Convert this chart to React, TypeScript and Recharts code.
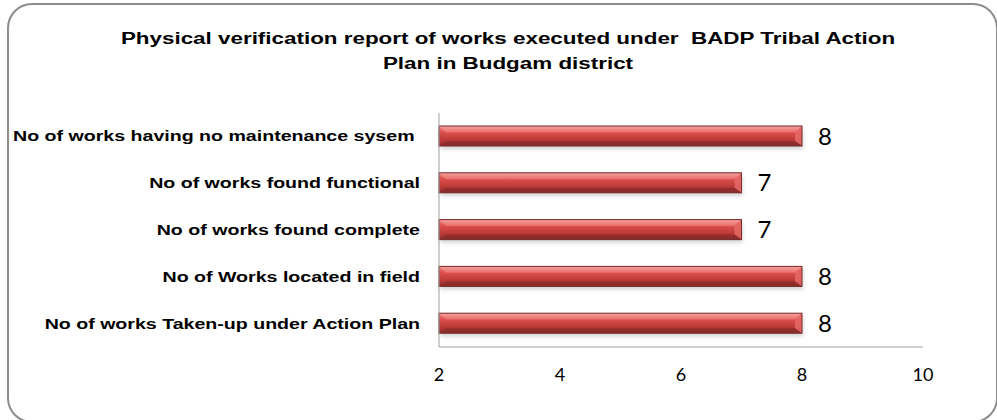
import { BarChart, Bar, XAxis, YAxis, LabelList } from "recharts";

const categories = [
  "No of works having no maintenance sysem ",
  "No of works found functional",
  "No of works found complete",
  "No of Works located in field",
  "No of works Taken-up under Action Plan",
];
const values = [8, 7, 7, 8, 8];
const xTicks = [2, 4, 6, 8, 10];

const TITLE_1 = "Physical verification report of works executed under  BADP Tribal Action";
const TITLE_2 = "Plan in Budgam district";

// the source picture is stretched sideways, so text is widened to match
const STRETCH = 1.4;

const data = categories.map((name, i) => ({ name, value: values[i] }));

function CategoryTick({ x, y, payload }: any) {
  return (
    <text
      transform={`translate(${x},${y}) scale(${STRETCH},1)`}
      textAnchor="end"
      dy={5}
      fontSize={14}
      fontWeight="bold"
      fontFamily="'Liberation Sans', Arial, sans-serif"
      fill="#000"
      style={{ whiteSpace: "pre" }}
    >
      {payload.value}
    </text>
  );
}

function ValueTick({ x, y, payload }: any) {
  return (
    <text x={x} y={y} dy={34} textAnchor="middle" fontSize={18} fontFamily="Lato, sans-serif" fill="#000">
      {payload.value}
    </text>
  );
}

function GlossyBar({ x, y, width, height }: any) {
  if (!width || width <= 0) return null;
  const b = Math.min(7, width / 2);
  return (
    <g>
      <rect x={x + 1} y={y + 3} width={width} height={height} fill="#000" opacity={0.18} filter="url(#barShadow)" />
      <rect x={x} y={y} width={width} height={height} fill="url(#barFill)" />
      <polygon
        points={`${x},${y} ${x + width},${y} ${x + width - b},${y + height * 0.32} ${x + b},${y + height * 0.32}`}
        fill="url(#barTop)"
      />
      <polygon
        points={`${x + width},${y} ${x + width},${y + height} ${x + width - b},${y + height * 0.75} ${x + width - b},${y + height * 0.32}`}
        fill="#e46a67"
        opacity={0.85}
      />
      <polygon
        points={`${x + b},${y + height * 0.75} ${x + width - b},${y + height * 0.75} ${x + width},${y + height} ${x},${y + height}`}
        fill="#84292a"
        opacity={0.6}
      />
      <rect x={x} y={y} width={width} height={height} fill="none" stroke="#772b29" strokeWidth={1} />
    </g>
  );
}

export default function App() {
  return (
    <div
      style={{
        position: "absolute",
        left: 0,
        top: 0,
        width: 997,
        height: 420,
        overflow: "hidden",
        background: "#fff",
      }}
    >
      <div
        style={{
          position: "absolute",
          left: 7,
          top: 3,
          width: 991,
          height: 420,
          border: "2px solid #8c8c8c",
          borderRadius: 25,
          boxSizing: "border-box",
        }}
      />
      <svg width={0} height={0} style={{ position: "absolute" }}>
        <defs>
          <linearGradient id="barFill" x1="0" y1="0" x2="0" y2="1">
            <stop offset="0%" stopColor="#f08a87" />
            <stop offset="30%" stopColor="#dd504d" />
            <stop offset="65%" stopColor="#c03c39" />
            <stop offset="100%" stopColor="#8e2c2a" />
          </linearGradient>
          <linearGradient id="barTop" x1="0" y1="0" x2="0" y2="1">
            <stop offset="0%" stopColor="#f5a29f" />
            <stop offset="100%" stopColor="#ea6c69" />
          </linearGradient>
          <filter id="barShadow" x="-5%" y="-50%" width="110%" height="200%">
            <feGaussianBlur stdDeviation="2" />
          </filter>
        </defs>
      </svg>
      <div
        style={{
          position: "absolute",
          left: 508,
          top: 26,
          transform: `translateX(-50%) scaleX(${STRETCH})`,
          fontFamily: "'Liberation Sans', Arial, sans-serif",
          fontWeight: "bold",
          fontSize: 16,
          lineHeight: "25px",
          textAlign: "center",
          whiteSpace: "pre",
          color: "#000",
        }}
      >
        <div>{TITLE_1}</div>
        <div>{TITLE_2}</div>
      </div>
      <div style={{ position: "absolute", left: 0, top: 0 }}>
        <BarChart
          width={997}
          height={420}
          data={data}
          layout="vertical"
          margin={{ top: 113, right: 74, bottom: 28, left: 0 }}
        >
          <XAxis
            type="number"
            domain={[2, 10]}
            ticks={xTicks}
            tickLine={false}
            tickSize={0}
            tickMargin={0}
            height={45}
            axisLine={{ stroke: "#a0a0a0" }}
            tick={<ValueTick />}
          />
          <YAxis
            type="category"
            dataKey="name"
            width={439}
            tickLine={false}
            tickSize={0}
            tickMargin={19}
            axisLine={{ stroke: "#a0a0a0" }}
            tick={<CategoryTick />}
            interval={0}
          />
          <Bar dataKey="value" barSize={20} shape={<GlossyBar />} isAnimationActive={false}>
            <LabelList
              dataKey="value"
              position="right"
              offset={16}
              fill="#000"
              fontSize={24}
              fontFamily="Lato, sans-serif"
            />
          </Bar>
        </BarChart>
      </div>
    </div>
  );
}
